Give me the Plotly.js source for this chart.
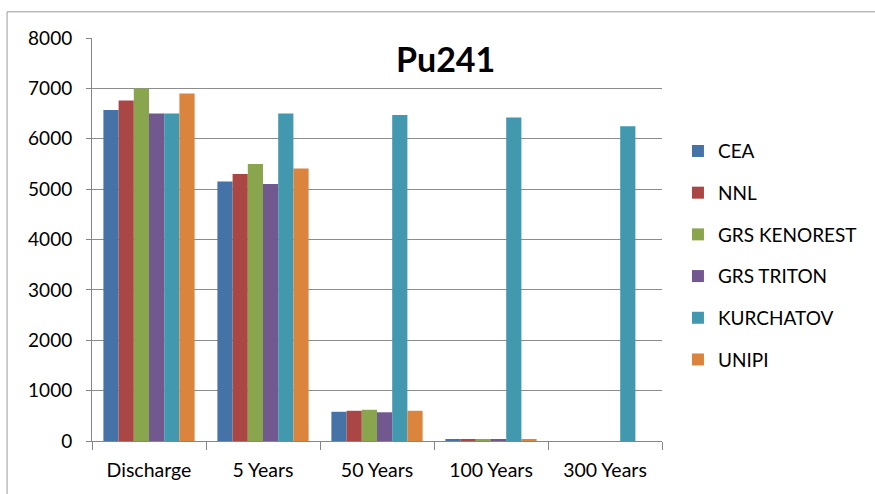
<!DOCTYPE html>
<html><head><meta charset="utf-8">
<script src="https://cdn.plot.ly/plotly-3.0.1.min.js"></script>
<style>html,body{margin:0;padding:0;background:#fff}#chart{width:875px;height:494px}</style>
</head><body><div id="chart"></div>
<script>
var categories = ["Discharge", "5 Years", "50 Years", "100 Years", "300 Years"];
var seriesNames = ["CEA", "NNL", "GRS KENOREST", "GRS TRITON", "KURCHATOV", "UNIPI"];
var CEA = [6570, 5150, 580, 40, 0];
var NNL = [6760, 5300, 600, 40, 0];
var GRS_KENOREST = [7000, 5500, 620, 40, 0];
var GRS_TRITON = [6500, 5100, 570, 40, 0];
var KURCHATOV = [6500, 6500, 6470, 6420, 6250];
var UNIPI = [6900, 5410, 600, 40, 0];
var colors = ["#4572A7", "#AA4643", "#89A54E", "#71588F", "#4198AF", "#DB843D"];
var values = [CEA, NNL, GRS_KENOREST, GRS_TRITON, KURCHATOV, UNIPI];

var traces = seriesNames.map(function(n, i){
  return {type:"bar", name:n, x:categories, y:values[i], legendgroup:"g"+i,
    marker:{color:colors[i], line:{width:0}}};
});
var font = "Lato, 'Open Sans', sans-serif";
var layout = {
  width:875, height:494,
  margin:{l:92, r:213, t:38, b:53},
  paper_bgcolor:"#fff", plot_bgcolor:"#fff",
  barmode:"group", bargap:0.2, bargroupgap:0,
  font:{family:font, size:19, color:"#000"},
  showlegend:true,
  legend:{x:1.028, xref:"paper", y:0.46, yanchor:"middle", xanchor:"left",
    bgcolor:"rgba(0,0,0,0)",
    font:{family:font, size:19, color:"#000"}, tracegroupgap:14, itemwidth:30,
    traceorder:"grouped"},
  xaxis:{type:"category", showgrid:false, showline:true, linecolor:"#868686", linewidth:1,
    ticks:"outside", tickson:"boundaries", ticklen:8, tickcolor:"#868686",
    ticklabelstandoff:12,
    tickfont:{family:font, size:19.5}, automargin:false},
  yaxis:{range:[0,8000], dtick:1000, showgrid:true, gridcolor:"#8c8c8c", gridwidth:1,
    showline:true, linecolor:"#868686", ticks:"outside", ticklen:5, tickcolor:"#868686",
    ticklabelstandoff:10,
    tickfont:{family:font, size:19}, zeroline:false, automargin:false},
  annotations:[{text:"<b>Pu241</b>", xref:"paper", yref:"paper", x:0.62, y:1.005,
    xanchor:"center", yanchor:"top", showarrow:false,
    font:{family:font, size:34, color:"#000"}}],
  shapes:[{type:"rect", xref:"paper", yref:"paper", x0:-0.149, x1:1.39, y0:-0.14, y1:1.065,
    line:{color:"#9a9a9a", width:1}}]
};
Plotly.newPlot("chart", traces, layout, {displayModeBar:false, staticPlot:true});
</script></body></html>
